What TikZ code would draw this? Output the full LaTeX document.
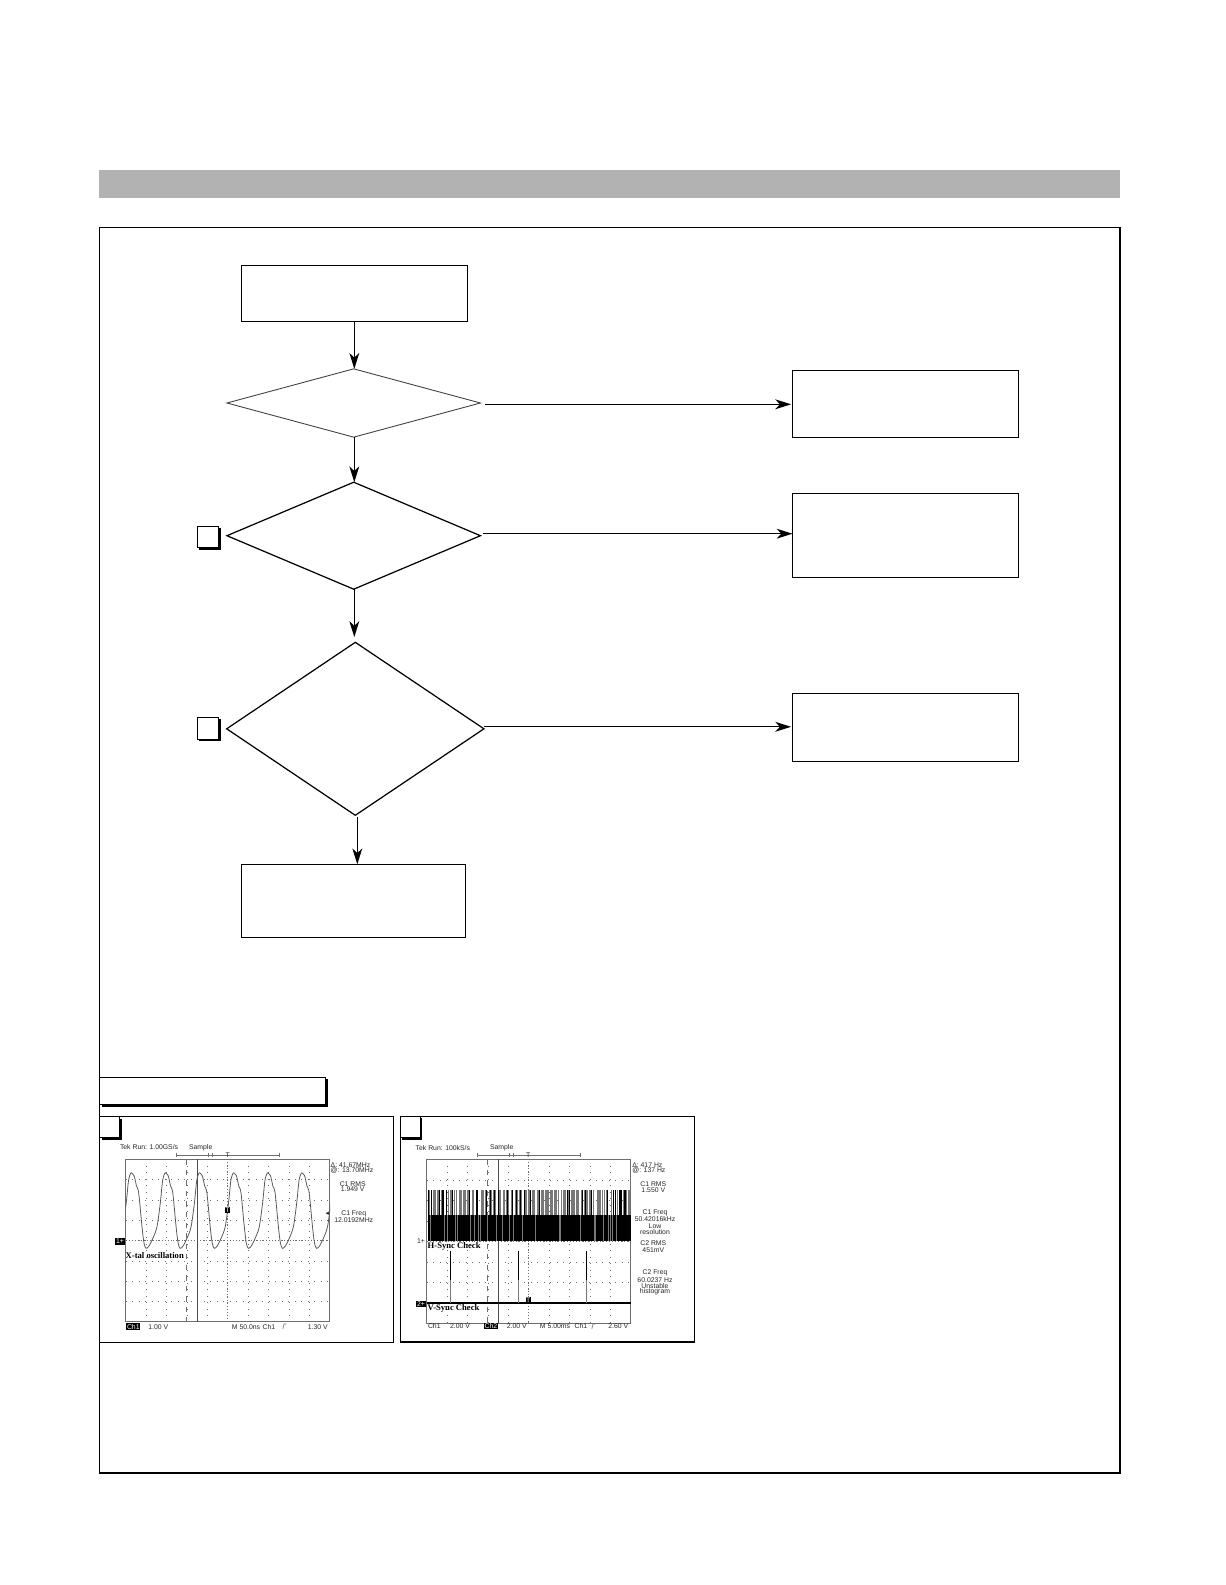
\documentclass[tikz,border=0pt]{standalone}
\usepackage{fontspec}
\setmainfont{Liberation Sans}
\newfontfamily\scopeserif{Liberation Serif}
\newfontfamily\scopesym{DejaVu Sans}
\definecolor{banner}{RGB}{178,178,178}
\definecolor{tracegray}{RGB}{120,120,120}
\definecolor{soft}{RGB}{110,110,110}
\usetikzlibrary{arrows.meta,shapes.geometric,shadows}
\tikzset{
  flowbox/.style={draw,line width=0.7pt,inner sep=0,outer sep=0,minimum width=4.52cm},
  test/.style={draw,diamond,line width=0.7pt,inner sep=0,outer sep=0,minimum width=5.07cm},
  flow/.style={line width=0.7pt,-{Stealth[length=9pt,width=5.6pt,inset=2.6pt]}},
  shadowed/.style={draw,fill=white,line width=0.6pt,inner sep=0,outer sep=0,
    drop shadow={shadow xshift=1.2pt,shadow yshift=-1.2pt,fill=black,opacity=1}},
  scopetxt/.style={font=\fontsize{3.9}{4.5}\selectfont,text=black!85,inner sep=0,outer sep=0},
  scopebold/.style={font=\fontsize{4.9}{5.5}\scopeserif\bfseries\selectfont,inner sep=0,outer sep=0,anchor=west},
  scopeinv/.style={font=\fontsize{3.9}{4.5}\selectfont,fill=black,text=white,inner sep=0.4pt,outer sep=0},
  gridline/.style={soft,line width=0.3pt,dash pattern=on 0.5pt off 3.2pt},
  barline/.style={tracegray,line width=0.5pt}
}
\begin{document}
\begin{tikzpicture}[x=0.02cm,y=-0.02cm]
        \useasboundingbox (0,0) rectangle (1225,1585);
        \fill[banner] (99,170) rectangle (1120,198);
        \draw[line width=0.7pt] (99.5,227.3) rectangle (1120,1473);
        % flow chart
        \node[flowbox,minimum height=1.12cm] (start) at (354.3,293.3) {};
        \node[test,minimum height=1.366cm,line width=0.5pt,draw=black!75] (dec1) at (353.7,403) {};
        \node[test,minimum height=2.14cm] (dec2) at (353.7,535.7) {};
        \node[test,minimum width=5.146cm,minimum height=3.46cm] (dec3) at (355.3,728.8) {};
        \node[flowbox,minimum width=4.49cm,minimum height=1.46cm] (last) at (353.5,900.8) {};
        \node[flowbox,minimum height=1.34cm] (res1) at (905.5,403.8) {};
        \node[flowbox,minimum height=1.68cm] (res2) at (905.5,535.3) {};
        \node[flowbox,minimum height=1.36cm] (res3) at (905.5,727.3) {};
        \node[shadowed,minimum width=0.43cm,minimum height=0.43cm] (mark2) at (208,537) {};
        \node[shadowed,minimum width=0.43cm,minimum height=0.44cm] (mark3) at (208,728.3) {};
        \coordinate (out1) at ([shift={(5,1.3)}]dec1.east);
        \coordinate (out2) at ([shift={(3,-2)}]dec2.east);
        \coordinate (out3) at ([shift={(0,-2)}]dec3.east);
        \coordinate (out4) at ([shift={(2,2)}]dec3.south);
        \draw[flow] (start.south)--(start.south |- dec1.north);
        \draw[flow] (start.south |- dec1.south)--(start.south |- dec2.north);
        \draw[flow,shorten >=3pt] (start.south |- dec2.south)--(start.south |- dec3.north);
        \draw[flow] (out4)--(out4 |- last.north);
        \draw[flow,shorten >=0.8pt] (out1)--(out1 -| res1.west);
        \draw[flow] (out2)--(out2 -| res2.west);
        \draw[flow,shorten >=0.8pt] (out3)--(out3 -| res3.west);
        % scope panels
        \node[shadowed,minimum width=4.52cm,minimum height=0.55cm] (title) at (212.7,1091) {};
        \draw[line width=0.6pt] (99.7,1116.5) rectangle (393.7,1342.7);
        \draw[line width=0.6pt] (400.3,1116.5) rectangle (694.3,1342);
        \node[shadowed,minimum width=0.4cm,minimum height=0.42cm] (corner1) at (109.7,1127) {};
        \node[shadowed,minimum width=0.4cm,minimum height=0.43cm] (corner2) at (410.3,1127) {};
        \foreach \ox/\oh/\og in {125.7/162.4/158.6,426.7/164/166.6}{
          \draw[soft,line width=0.35pt] (\ox,1159.3) rectangle ++(204,\oh);
          \foreach \i in {1,...,9} \draw[gridline] (\ox+\i*20.4,1159.3)--++(0,\oh);
          \foreach \i in {1,...,7} \draw[gridline] (\ox,1159.3+\i*\oh/8)--++(204,0);
          \draw[soft,line width=0.3pt,dash pattern=on 0.5pt off 1.2pt] (\ox+102,1159.3)--++(0,\oh);
          \draw[soft,line width=0.3pt,dash pattern=on 0.5pt off 1.2pt] (\ox,1159.3+\oh/2)--++(204,0);
          \draw[soft,line width=0.35pt,dashed] (\ox+61,1159.3)--++(0,\oh);
          \draw[black!70,line width=0.5pt] (\ox+71.6,1159.3)--++(0,\oh);
          \draw[line width=0.3pt,soft] (\ox+50.3,1155)--++(103.4,0);
          \draw[line width=0.3pt,soft] (\ox+50.3,1153)--++(0,4) (\ox+153.7,1153)--++(0,4) (\ox+82.5,1153)--++(0,4) (\ox+86.5,1153)--++(0,4);
          \draw[soft,line width=0.35pt] (\ox+\og-1.5,1329)--++(1.2,-5)--++(2.4,0);
        }
        % x-tal trace
        \begin{scope}
          \clip (125.7,1159.3) rectangle (330,1321.7);
          \foreach \p in {96.9,131,165.1,199.2,233.3,267.4,301.5,335.6}
            \draw[black!65,line width=0.45pt] plot[smooth] coordinates {(\p,1172.7) ({\p+3},1175.5) ({\p+5.5},1186) ({\p+7.7},1193) ({\p+11},1226.7) ({\p+13},1243) ({\p+15},1248.3) ({\p+18},1246) ({\p+22},1238) ({\p+26},1226.7) ({\p+29.3},1203) ({\p+31.7},1180) ({\p+34.1},1172.7)};
        \end{scope}
        % sync traces
        \fill (427.7,1215) rectangle (630.5,1240.7);
        \pgfmathsetseed{11}
        \foreach \i in {0,...,155}{
          \pgfmathsetmacro\barx{428+\i*1.3}
          \pgfmathrandominteger\kind{0}{9}
          \ifnum\kind<8 \draw[barline] (\barx,1190)--(\barx,1215); \fi
          \ifnum\kind<2 \draw[black,line width=0.5pt] (\barx,1190)--(\barx,1215); \fi
          \ifnum\kind>7 \draw[barline] (\barx,1215)--(\barx,1240.7); \fi
        }
        \draw[line width=0.9pt] (426.7,1302.7)--(630.7,1302.7);
        \foreach \x in {450.7,518.3,586.7}{
          \draw[line width=0.5pt] (\x,1250.7)--(\x,1280);
          \draw[tracegray,line width=0.7pt] (\x,1280)--(\x,1302.7);
        }
        % scope labels
        \foreach \x/\y/\t [count=\i] in {120/1147.3/Tek Run: 1.00GS\slash s,330.7/1164.7/Δ: 41.67MHz,330.7/1170.3/@: 13.70MHz,415.7/1148/Tek Run: 100kS\slash s,632.3/1165/Δ: 417 Hz,632.3/1170.7/@: 137 Hz}
          \node[scopetxt,anchor=west] (lefttxt\i) at (\x,\y) {\t};
        \foreach \x/\y/\t [count=\i] in {200.7/1147.3/Sample,227.7/1155/T,352.7/1184/C1 RMS,352.7/1189.3/1.949 V,353.7/1214/C1 Freq,353.7/1219.7/12.0192MHz,158.3/1326.7/1.00 V,246/1326.7/M 50.0ns,269/1326.7/Ch1,317.7/1326.7/1.30 V,501.7/1147.5/Sample,528.3/1154.7/T,653.3/1184/C1 RMS,653.3/1190/1.550 V,655/1213.3/C1 Freq,655/1219/50.42016kHz,655/1225.7/Low,655/1232/resolution,653.3/1243.3/C2 RMS,653.3/1250/451mV,655/1273.3/C2 Freq,655/1279.7/60.0237 Hz,655/1285.7/Unstable,655/1292/histogram,434.3/1326/Ch1,460/1326/2.00 V,516.7/1326/2.00 V,555/1326/M 5.00ms,581/1326/Ch1,618.3/1326/2.60 V,421/1241/1+}
          \node[scopetxt] (txt\i) at (\x,\y) {\t};
        \foreach \x/\y/\t [count=\i] in {133.3/1326.7/Ch1,120/1241.5/1+,227.5/1210/T,491/1326/Ch2,421/1304/2+,528.3/1300/T}
          \node[scopeinv] (inv\i) at (\x,\y) {\t};
        \node[scopetxt] (arrowmark) at (327.3,1214) {\scopesym ◂};
        \foreach \x/\y/\t [count=\i] in {125.7/1255.7/X-tal oscillation,427.7/1246.7/H-Sync Check,427.7/1308.7/V-Sync Check}
          \node[scopebold] (tracename\i) at (\x,\y) {\t};
      \end{tikzpicture}
\end{document}
